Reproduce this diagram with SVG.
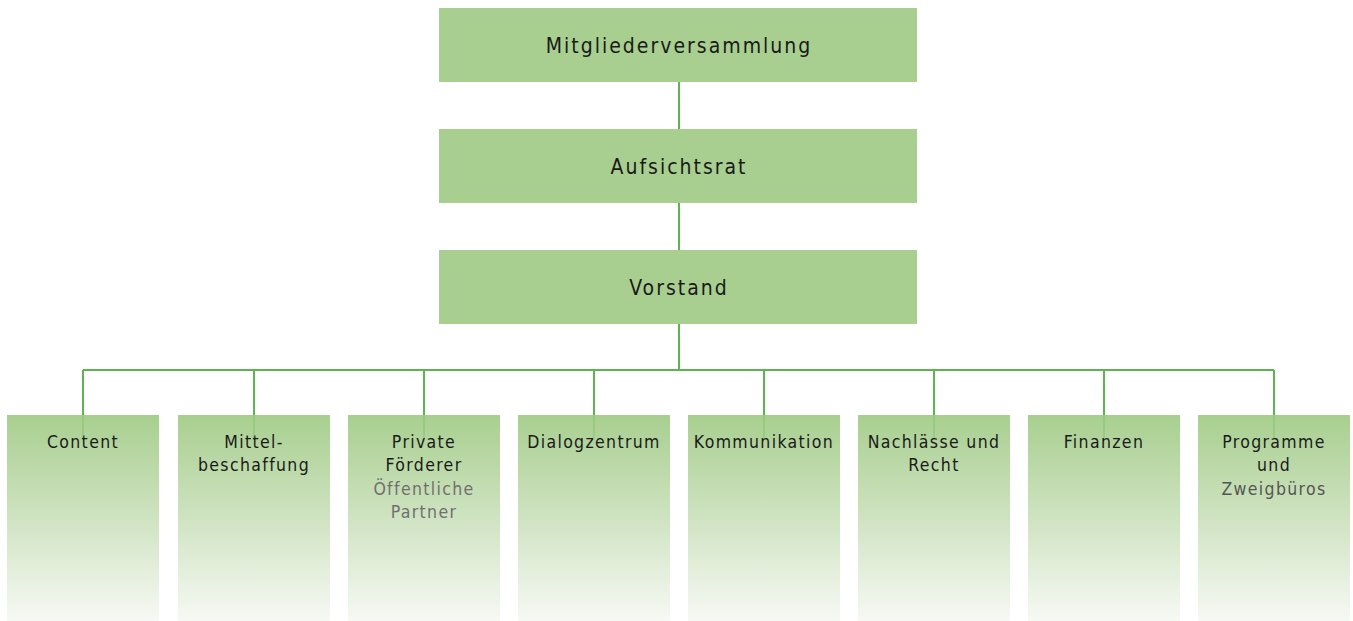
<svg xmlns="http://www.w3.org/2000/svg" width="1353" height="621" viewBox="0 0 1353 621">
<defs>
<linearGradient id="fade" x1="0" y1="0" x2="0" y2="1">
<stop offset="0" stop-color="#a8cf8f"/>
<stop offset="0.5" stop-color="#cfe3c1"/>
<stop offset="1" stop-color="#f7f9f5"/>
</linearGradient>
<style>
.top{fill:#a8cf8f}
.dept{fill:url(#fade)}
.t{font-family:"DejaVu Sans Condensed","DejaVu Sans",sans-serif;fill:#1a1a1a;text-anchor:middle}
.big{font-size:21px;letter-spacing:2px}
.sm{font-size:17.5px;letter-spacing:1.35px}
.g{fill:#707070}
.g2{fill:#555}
.c{stroke:#5db54f;stroke-width:2;fill:none}
.cf{stroke:#5db54f;stroke-width:2;fill:none;opacity:0.25}
</style>
</defs>
<g id="connectors">
<path class="c" d="M679 82V129M679 203V250M679 324V370M83 370H1274M83 370V415M254 370V415M424 370V415M594 370V415M764 370V415M934 370V415M1104 370V415M1274 370V415"/>
</g>
<g id="n-mitglieder"><rect class="top" x="439" y="8" width="478" height="74"/><text class="t big" x="679" y="53">Mitgliederversammlung</text></g>
<g id="n-aufsichtsrat"><rect class="top" x="439" y="129" width="478" height="74"/><text class="t big" x="679" y="174">Aufsichtsrat</text></g>
<g id="n-vorstand"><rect class="top" x="439" y="250" width="478" height="74"/><text class="t big" x="679" y="295">Vorstand</text></g>
<g id="n-content"><rect class="dept" x="7" y="415" width="152" height="206"/><text class="t sm" x="83" y="448">Content</text></g>
<g id="n-mittel"><rect class="dept" x="178" y="415" width="152" height="206"/><text class="t sm" x="254" y="448">Mittel-</text><text class="t sm" x="254" y="471">beschaffung</text></g>
<g id="n-private"><rect class="dept" x="348" y="415" width="152" height="206"/><text class="t sm" x="424" y="448">Private</text><text class="t sm" x="424" y="471">Förderer</text><text class="t sm g" x="424" y="495">Öffentliche</text><text class="t sm g" x="424" y="518">Partner</text></g>
<g id="n-dialog"><rect class="dept" x="518" y="415" width="152" height="206"/><text class="t sm" x="594" y="448">Dialogzentrum</text></g>
<g id="n-kommunikation"><rect class="dept" x="688" y="415" width="152" height="206"/><text class="t sm" x="764" y="448">Kommunikation</text></g>
<g id="n-nachlaesse"><rect class="dept" x="858" y="415" width="152" height="206"/><text class="t sm" x="934" y="448">Nachlässe und</text><text class="t sm" x="934" y="471">Recht</text></g>
<g id="n-finanzen"><rect class="dept" x="1028" y="415" width="152" height="206"/><text class="t sm" x="1104" y="448">Finanzen</text></g>
<g id="n-programme"><rect class="dept" x="1198" y="415" width="152" height="206"/><text class="t sm" x="1274" y="448">Programme</text><text class="t sm" x="1274" y="471">und</text><text class="t sm g2" x="1274" y="495">Zweigbüros</text></g>
<g id="connector-tails">
<path class="cf" d="M83 415V438M254 415V438M424 415V438M594 415V438M764 415V438M934 415V438M1104 415V438M1274 415V438"/>
</g>
</svg>
